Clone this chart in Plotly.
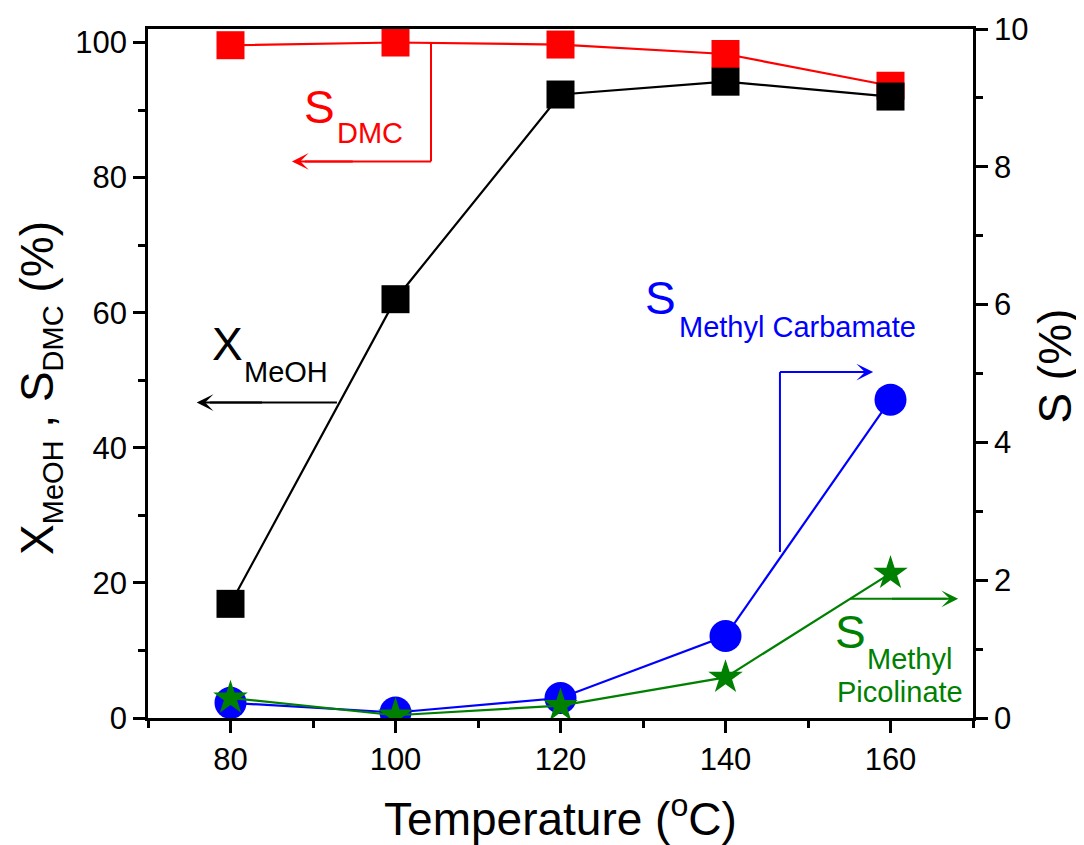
import plotly.graph_objects as go

temps = [80, 100, 120, 140, 160]
x_meoh = [16.9, 62.0, 92.3, 94.2, 92.0]
s_dmc = [99.6, 100.0, 99.7, 98.3, 93.6]
s_carbamate = [0.22, 0.08, 0.29, 1.19, 4.62]
s_picolinate = [0.29, 0.04, 0.18, 0.59, 2.10]

x_ticks = [80, 100, 120, 140, 160]
y_ticks = [0, 20, 40, 60, 80, 100]
y2_ticks = [0, 2, 4, 6, 8, 10]

FONT = "Liberation Sans, Arial, sans-serif"
RED, BLACK, BLUE, GREEN = "#ff0000", "#000000", "#0000ff", "#008000"

fig = go.Figure()
fig.add_trace(go.Scatter(x=temps, y=s_dmc, mode="lines+markers",
                         line=dict(color=RED, width=2.2),
                         marker=dict(symbol="square", size=28, color=RED), yaxis="y"))
fig.add_trace(go.Scatter(x=temps, y=x_meoh, mode="lines+markers",
                         line=dict(color=BLACK, width=2.2),
                         marker=dict(symbol="square", size=28, color=BLACK), yaxis="y"))
fig.add_trace(go.Scatter(x=temps, y=s_carbamate, mode="lines+markers",
                         line=dict(color=BLUE, width=2.2),
                         marker=dict(symbol="circle", size=32, color=BLUE), yaxis="y2"))
fig.add_trace(go.Scatter(x=temps, y=s_picolinate, mode="lines+markers",
                         line=dict(color=GREEN, width=2.2),
                         marker=dict(symbol="star", size=26, color=GREEN), yaxis="y2"))

axis_common = dict(
    showline=True, linecolor="black", linewidth=2.5,
    ticks="outside", ticklen=12, tickwidth=2.5, tickcolor="black",
    showgrid=False, zeroline=False,
    tickfont=dict(family=FONT, size=31, color="black"),
)

fig.update_layout(
    width=1076, height=837,
    margin=dict(l=140, r=111, t=21, b=127, autoexpand=False),
    paper_bgcolor="white", plot_bgcolor="white",
    showlegend=False,
    font=dict(family=FONT, color="black"),
    xaxis=dict(range=[70, 170], tickvals=x_ticks, mirror=True,
               minor=dict(dtick=10, tick0=70, ticklen=7, tickwidth=2.5, ticks="outside", tickcolor="black"),
               title=dict(text="Temperature (<sup>o</sup>C)", font=dict(family=FONT, size=46), standoff=29),
               **axis_common),
    yaxis=dict(range=[0, 102], tickvals=y_ticks,
               minor=dict(dtick=10, tick0=0, ticklen=7, tickwidth=2.5, ticks="outside", tickcolor="black"),
               **axis_common),
    yaxis2=dict(range=[0, 10], tickvals=y2_ticks, overlaying="y", side="right",
                minor=dict(dtick=1, tick0=0, ticklen=7, tickwidth=2.5, ticks="outside", tickcolor="black"),
                **axis_common),
)

# y axis titles as rotated annotations (paper coords)
fig.add_annotation(x=-0.131, y=0.479, xref="paper", yref="paper", textangle=-90,
                   text="X<sub><span style='font-size:29px'>MeOH</span></sub> , "
                        "S<sub><span style='font-size:29px'>DMC</span></sub> (%)",
                   showarrow=False,
                   xanchor="center", yanchor="middle", font=dict(family=FONT, size=46, color="black"))
fig.add_annotation(x=1.099, y=0.511, xref="paper", yref="paper", textangle=-90,
                   text="S (%)", showarrow=False,
                   xanchor="center", yanchor="middle", font=dict(family=FONT, size=46, color="black"))

# connector lines
shapes = [
    dict(type="line", xref="x", yref="y", x0=104.3, y0=100.0, x1=104.3, y1=82.4, line=dict(color=RED, width=2)),
    dict(type="line", xref="x", yref="y", x0=104.3, y0=82.4, x1=89.0, y1=82.4, line=dict(color=RED, width=2)),
    dict(type="line", xref="x", yref="y", x0=92.9, y0=46.7, x1=77.5, y1=46.7, line=dict(color=BLACK, width=2)),
    dict(type="line", xref="x", yref="y2", x0=146.6, y0=2.41, x1=146.6, y1=5.02, line=dict(color=BLUE, width=2)),
    dict(type="line", xref="x", yref="y2", x0=146.6, y0=5.02, x1=156.5, y1=5.02, line=dict(color=BLUE, width=2)),
    dict(type="line", xref="x", yref="y2", x0=155.1, y0=1.73, x1=166.8, y1=1.73, line=dict(color=GREEN, width=2)),
]
fig.update_layout(shapes=shapes)

def arrow(x, y, ax, ay, color, yref):
    fig.add_annotation(x=x, y=y, ax=ax, ay=ay, xref="x", yref=yref, axref="x", ayref=yref,
                       text="", showarrow=True, arrowhead=3, arrowsize=1.4, arrowwidth=2,
                       arrowcolor=color, standoff=0, startstandoff=0)

arrow(87.45, 82.4, 95.0, 82.4, RED, "y")
arrow(75.9, 46.7, 84.0, 46.7, BLACK, "y")
arrow(157.9, 5.02, 150.0, 5.02, BLUE, "y2")
arrow(168.2, 1.73, 160.0, 1.73, GREEN, "y2")

def label(x, y, text, size, color, yref):
    fig.add_annotation(x=x, y=y, xref="x", yref=yref, text=text, showarrow=False,
                       xanchor="center", yanchor="middle",
                       font=dict(family=FONT, size=size, color=color))

label(90.73, 90.44, "S", 46, RED, "y")
label(96.91, 86.67, "DMC", 29, RED, "y")
label(79.58, 55.33, "X", 46, BLACK, "y")
label(86.67, 51.26, "MeOH", 29, BLACK, "y")
label(132.18, 6.096, "S", 46, BLUE, "y2")
label(148.73, 5.682, "Methyl Carbamate", 29, BLUE, "y2")
label(155.21, 1.255, "S", 46, GREEN, "y2")
label(162.36, 0.856, "Methyl", 29, GREEN, "y2")
label(161.15, 0.377, "Picolinate", 29, GREEN, "y2")

fig.write_html("out.html")
